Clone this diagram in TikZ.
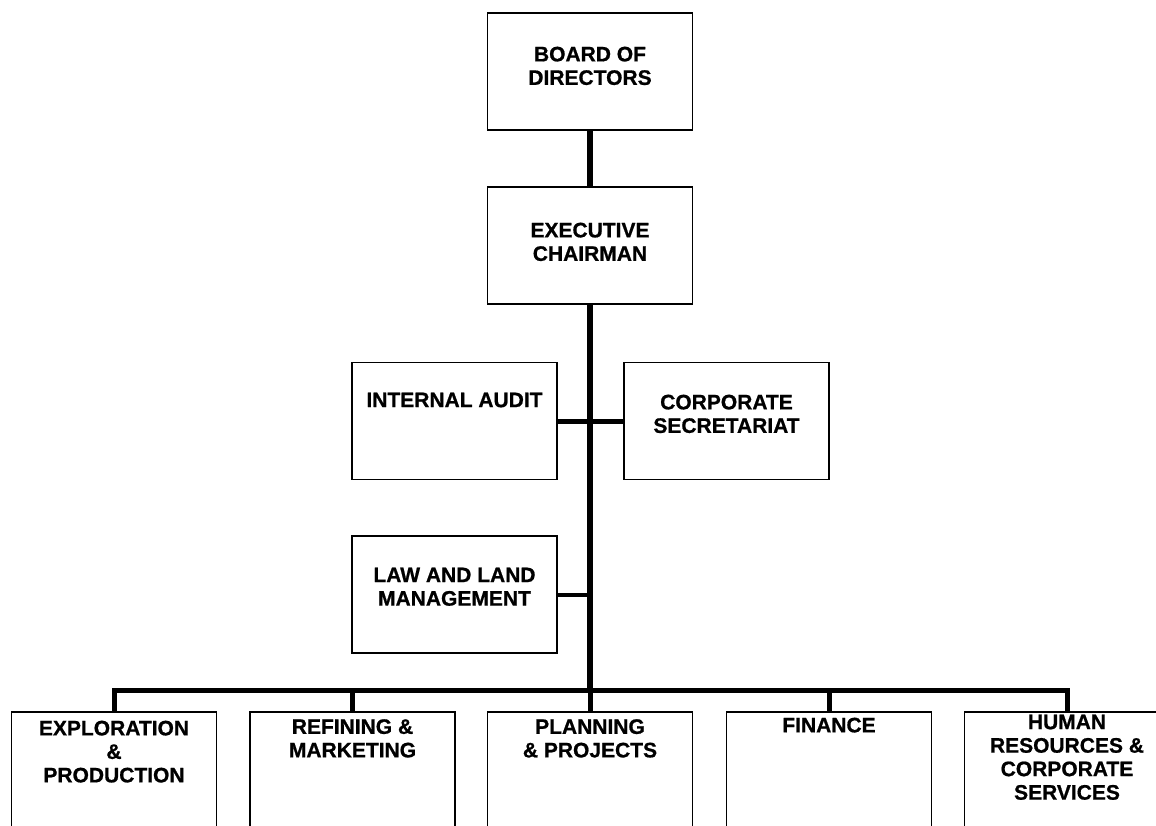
\documentclass[tikz,border=0pt]{standalone}
\usepackage{fontspec}
\setmainfont{Liberation Sans}
\newfontfamily\chartfont{Liberation Sans Bold}[FakeBold=0.8]
\begin{document}
\begin{tikzpicture}[x=1pt,y=-1pt,
  unitbox/.style={draw=black, line width=1.8pt, minimum width=205pt,
    minimum height=117pt, inner sep=0pt, fill=white},
  openbox/.style={unitbox, minimum height=150pt},
  caption/.style={font=\chartfont\fontsize{21}{23.5}\selectfont,
    align=center, anchor=north, inner sep=0pt},
  trunk/.style={line width=6pt},
  branch/.style={line width=5pt},
  thinbranch/.style={line width=4pt}]
\useasboundingbox (0,0) rectangle (1156,825);
\clip (0,0) rectangle (1156,825);

% top of the hierarchy
\node[unitbox] (board) at (590,71.5) {};
\node[unitbox] (exec)  at (590,245.5) {};

% staff units beside the trunk
\node[unitbox] (audit) at (454.5,421) {};
\node[unitbox] (secr)  at (726.5,421) {};
\node[unitbox] (law)   at (454.5,594.5) {};

% divisions along the bottom (running off the page)
\node[openbox] (expl) at (114,787) {};
\node[openbox] (refi) at (352.5,787) {};
\node[openbox] (plan) at (590,787) {};
\node[openbox] (fin)  at (829,787) {};
\node[openbox] (hr)   at (1067,787) {};

\coordinate (busmid) at (590,690);

% connectors
\draw[trunk] (board.south) -- (exec.north);
\draw[trunk] (exec.south) -- (busmid);
\draw[branch] (audit.east) -- (secr.west);
\draw[thinbranch] (law.east) -- (law.east -| busmid);
\draw[branch] (expl.north) |- (busmid);
\draw[branch] (refi.north) |- (busmid);
\draw[branch] (plan.north) |- (busmid);
\draw[branch] (fin.north) |- (busmid);
\draw[branch] (hr.north) |- (busmid);

% labels
\node[caption] (tboard) at (590,46.5) {BOARD OF\\DIRECTORS};
\node[caption] (texec)  at (590,222.5) {EXECUTIVE\\CHAIRMAN};
\node[caption] (taudit) at (454.5,392.5) {INTERNAL AUDIT};
\node[caption] (tsecr)  at (726.5,394.5) {CORPORATE\\SECRETARIAT};
\node[caption] (tlaw)   at (454.5,567.5) {LAW AND LAND\\MANAGEMENT};
\node[caption] (texpl)  at (114,720.5) {EXPLORATION\\\&\\PRODUCTION};
\node[caption] (trefi)  at (352.5,719) {REFINING \&\\MARKETING};
\node[caption] (tplan)  at (590,719) {PLANNING\\\& PROJECTS};
\node[caption] (tfin)   at (829,717.5) {FINANCE};
\node[caption] (thr)    at (1067,714.5) {HUMAN\\RESOURCES \&\\CORPORATE\\SERVICES};
\end{tikzpicture}
\end{document}
